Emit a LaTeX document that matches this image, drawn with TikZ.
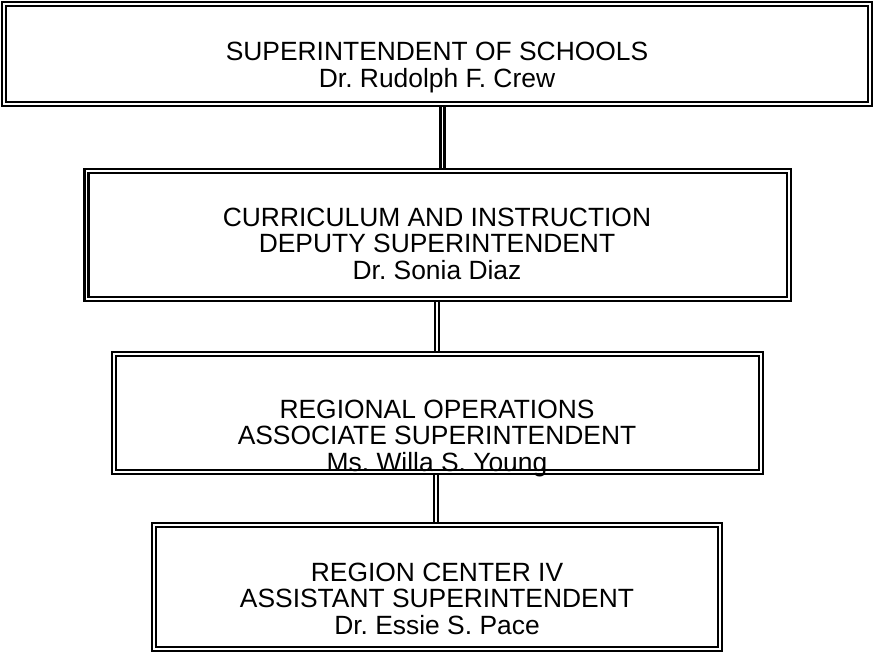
\documentclass[tikz,border=0pt]{standalone}
\usepackage{fontspec}
\setmainfont{Liberation Sans}
\frenchspacing
\begin{document}
\begin{tikzpicture}[x=1pt, y=-1pt,
  box/.style={draw, double, line width=2.3pt, double distance=1.8pt,
    rectangle, inner sep=0pt, outer sep=3.2pt},
  lbl/.style={font=\fontsize{26.4}{26.5}\selectfont, align=center,
    inner sep=0pt, anchor=north},
  link/.style={draw, double, line width=2.6pt, double distance=1.6pt}]
\useasboundingbox (0,0) rectangle (873,655);

% office boxes (double-ruled frames)
\node[box, minimum width=865.5pt, minimum height=100pt]   (b1) at (437,54.25)   {};
\node[box, minimum width=702.5pt, minimum height=127.5pt] (b2) at (437.75,235)  {};
\node[box, minimum width=646.75pt, minimum height=118pt]  (b3) at (437.4,412.75){};
\node[box, minimum width=565.75pt, minimum height=124pt]  (b4) at (437.1,587.25){};

% titles and names
\node[lbl] (t1) at (437,42.3) {SUPERINTENDENT OF SCHOOLS\\Dr. Rudolph F. Crew};
\node[lbl] (t2) at (437,207.8) {CURRICULUM AND INSTRUCTION\\DEPUTY SUPERINTENDENT\\Dr. Sonia Diaz};
\node[lbl] (t3) at (437,399.8) {REGIONAL OPERATIONS\\ASSOCIATE SUPERINTENDENT\\Ms. Willa S. Young};
\node[lbl] (t4) at (437,562.8) {REGION CENTER IV\\ASSISTANT SUPERINTENDENT\\Dr. Essie S. Pace};

% reporting lines
\draw[link] ([xshift=5.4pt]b1.south) -- ([xshift=5.4pt]b1.south |- b2.north);
\draw[link] ([xshift=-0.75pt]b2.south) -- ([xshift=-0.75pt]b2.south |- b3.north);
\draw[link] ([xshift=-1.4pt]b3.south) -- ([xshift=-1.4pt]b3.south |- b4.north);
\end{tikzpicture}
\end{document}
